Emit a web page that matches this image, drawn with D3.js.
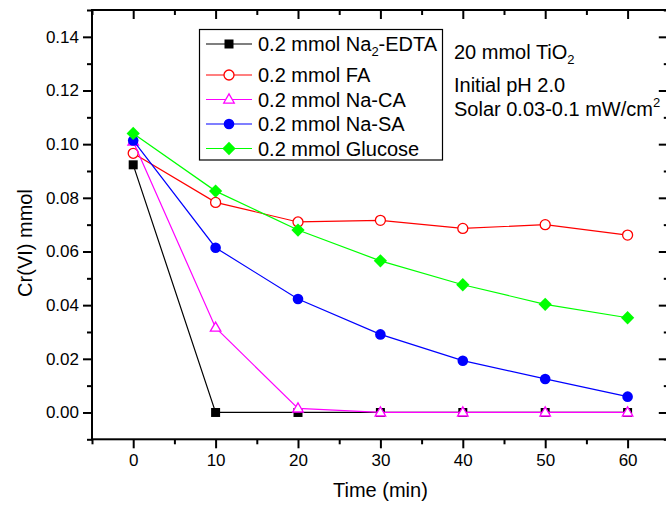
<!DOCTYPE html>
<html>
<head>
<meta charset="utf-8">
<script src="https://cdn.jsdelivr.net/npm/d3@7"></script>
<style>
  body { margin: 0; background: #fff; }
  svg { display: block; font-family: "Liberation Sans", Arial, sans-serif; }
</style>
</head>
<body>
<div id="chart"></div>
<script>
// 1: DATA
const times = [0, 10, 20, 30, 40, 50, 60];
const edta = [0.0923, 0, 0, 0, 0, 0, 0];
const fa = [0.0966, 0.0783, 0.0710, 0.0716, 0.0686, 0.0700, 0.0661];
const naCA = [0.1010, 0.0316, 0.0015, 0, 0, 0, 0];
const naSA = [0.1014, 0.0614, 0.0423, 0.0291, 0.0193, 0.0125, 0.0059];
const glucose = [0.1040, 0.0825, 0.0680, 0.0565, 0.0476, 0.0403, 0.0353];

const xTicks = [0, 10, 20, 30, 40, 50, 60];
const xMinorTicks = [-5, 5, 15, 25, 35, 45, 55, 65];
const yTicks = [0, 0.02, 0.04, 0.06, 0.08, 0.10, 0.12, 0.14];
const yMinorTicks = [-0.01, 0.01, 0.03, 0.05, 0.07, 0.09, 0.11, 0.13, 0.15];

const seriesNames = ["Na2-EDTA", "FA", "Na-CA", "Na-SA", "Glucose"];
const seriesValues = [edta, fa, naCA, naSA, glucose];
const seriesColors = ["#000000", "#ff0000", "#ff00ff", "#0000ff", "#00ff00"];
const seriesMarkers = ["square", "circleOpen", "triangleOpen", "circle", "diamond"];

const notes = ["20 mmol TiO|2|sub", "Initial pH 2.0", "Solar 0.03-0.1 mW/cm|2|sup"];

// 2: SVG + SCALES
const W = 666, H = 505;
const plot = { left: 92, top: 10, right: 668.8, bottom: 439.3 };

const svg = d3.select("#chart").append("svg")
    .attr("width", W)
    .attr("height", H);

svg.append("rect").attr("width", W).attr("height", H).attr("fill", "#fff");

const xScale = d3.scaleLinear().domain([-5, 65]).range([plot.left, plot.right]);
const yScale = d3.scaleLinear().domain([-0.01, 0.15]).range([plot.bottom, plot.top]);

// 3: AXES
function styleAxis(g, width) {
    g.select(".domain").remove();
    g.selectAll(".tick line").attr("stroke", "#000").attr("stroke-width", width);
    g.selectAll(".tick text").attr("fill", "#000").style("font-size", "17px");
}

// bottom
svg.append("g")
    .attr("transform", `translate(0,${plot.bottom})`)
    .call(d3.axisBottom(xScale).tickValues(xTicks).tickSizeInner(9).tickSizeOuter(0).tickPadding(6))
    .call(g => styleAxis(g, 2));
svg.append("g")
    .attr("transform", `translate(0,${plot.bottom})`)
    .call(d3.axisBottom(xScale).tickValues(xMinorTicks).tickSize(5).tickFormat(""))
    .call(g => styleAxis(g, 2));

// top (ticks inward)
svg.append("g")
    .attr("transform", `translate(0,${plot.top})`)
    .call(d3.axisTop(xScale).tickValues(xTicks).tickSize(-9).tickFormat(""))
    .call(g => styleAxis(g, 2));
svg.append("g")
    .attr("transform", `translate(0,${plot.top})`)
    .call(d3.axisTop(xScale).tickValues(xMinorTicks).tickSize(-5).tickFormat(""))
    .call(g => styleAxis(g, 2));

// left
svg.append("g")
    .attr("transform", `translate(${plot.left},0)`)
    .call(d3.axisLeft(yScale).tickValues(yTicks).tickSizeInner(9).tickSizeOuter(0)
        .tickPadding(4).tickFormat(d3.format(".2f")))
    .call(g => styleAxis(g, 2));
svg.append("g")
    .attr("transform", `translate(${plot.left},0)`)
    .call(d3.axisLeft(yScale).tickValues(yMinorTicks).tickSize(5).tickFormat(""))
    .call(g => styleAxis(g, 2));

// right (ticks inward)
svg.append("g")
    .attr("transform", `translate(${plot.right},0)`)
    .call(d3.axisRight(yScale).tickValues(yTicks).tickSize(-10).tickFormat(""))
    .call(g => styleAxis(g, 2));
svg.append("g")
    .attr("transform", `translate(${plot.right},0)`)
    .call(d3.axisRight(yScale).tickValues(yMinorTicks).tickSize(-5).tickFormat(""))
    .call(g => styleAxis(g, 2));

// frame
svg.append("rect")
    .attr("x", plot.left)
    .attr("y", plot.top)
    .attr("width", plot.right - plot.left)
    .attr("height", plot.bottom - plot.top)
    .attr("fill", "none")
    .attr("stroke", "#000")
    .attr("stroke-width", 2);

// axis titles
svg.append("text")
    .attr("x", xScale(30))
    .attr("y", 497)
    .attr("text-anchor", "middle")
    .style("font-size", "20px")
    .text("Time (min)");

svg.append("text")
    .attr("transform", "translate(32,243) rotate(-90)")
    .attr("text-anchor", "middle")
    .style("font-size", "20px")
    .text("Cr(VI) mmol");

// 4: SERIES
function drawMarker(g, type, color) {
    if (type === "square") {
        g.append("path").attr("d", d3.symbol(d3.symbolSquare, 81)())
            .attr("fill", color);
    } else if (type === "circle") {
        g.append("circle").attr("r", 5.3).attr("fill", color);
    } else if (type === "circleOpen") {
        g.append("circle").attr("r", 5).attr("fill", "#fff")
            .attr("stroke", color).attr("stroke-width", 1.3);
    } else if (type === "triangleOpen") {
        g.append("path").attr("d", d3.symbol(d3.symbolTriangle, 48)())
            .attr("transform", "translate(0,0.5)")
            .attr("fill", "#fff").attr("stroke", color).attr("stroke-width", 1.3);
    } else if (type === "diamond") {
        g.append("path").attr("d", d3.symbol(d3.symbolSquare, 88)())
            .attr("transform", "rotate(45)")
            .attr("fill", color);
    }
}

const line = d3.line()
    .x(d => xScale(d.t))
    .y(d => yScale(d.v));

seriesValues.forEach((vals, i) => {
    const pts = times.map((t, j) => ({ t: t, v: vals[j] }));
    const g = svg.append("g").attr("class", "series");
    g.append("path")
        .attr("d", line(pts))
        .attr("fill", "none")
        .attr("stroke", seriesColors[i])
        .attr("stroke-width", 1.2);
    g.selectAll(".pt")
        .data(pts)
        .enter()
        .append("g")
        .attr("class", "pt")
        .attr("transform", d => `translate(${xScale(d.t)},${yScale(d.v)})`)
        .each(function() { drawMarker(d3.select(this), seriesMarkers[i], seriesColors[i]); });
});

// 5: LEGEND
const legend = svg.append("g").attr("class", "legend");
legend.append("rect")
    .attr("x", 199.5)
    .attr("y", 29.5)
    .attr("width", 243)
    .attr("height", 130.5)
    .attr("fill", "#fff")
    .attr("stroke", "#000")
    .attr("stroke-width", 1.2);

const rowY = [44, 75, 99.5, 124, 148.5];
seriesNames.forEach((name, i) => {
    const row = legend.append("g").attr("transform", `translate(0,${rowY[i]})`);
    row.append("line")
        .attr("x1", 206).attr("x2", 252)
        .attr("stroke", seriesColors[i]).attr("stroke-width", 1.2);
    const m = row.append("g").attr("transform", "translate(229,0)");
    drawMarker(m, seriesMarkers[i], seriesColors[i]);
    const txt = row.append("text")
        .attr("x", 258)
        .attr("y", 7)
        .style("font-size", "20px");
    if (name === "Na2-EDTA") {
        txt.append("tspan").text("0.2 mmol Na");
        txt.append("tspan").attr("dy", 5).style("font-size", "13px").text("2");
        txt.append("tspan").attr("dy", -5).text("-EDTA");
    } else {
        txt.text("0.2 mmol " + name);
    }
});

// 6: NOTES
const noteY = [59, 92, 116];
notes.forEach((n, i) => {
    const parts = n.split("|");
    const txt = svg.append("text")
        .attr("x", 454)
        .attr("y", noteY[i])
        .style("font-size", "20px");
    txt.append("tspan").text(parts[0]);
    if (parts.length > 1) {
        const shift = parts[2] === "sub" ? 5 : -9;
        txt.append("tspan").attr("dy", shift).style("font-size", "13px").text(parts[1]);
    }
});
</script>
</body>
</html>
